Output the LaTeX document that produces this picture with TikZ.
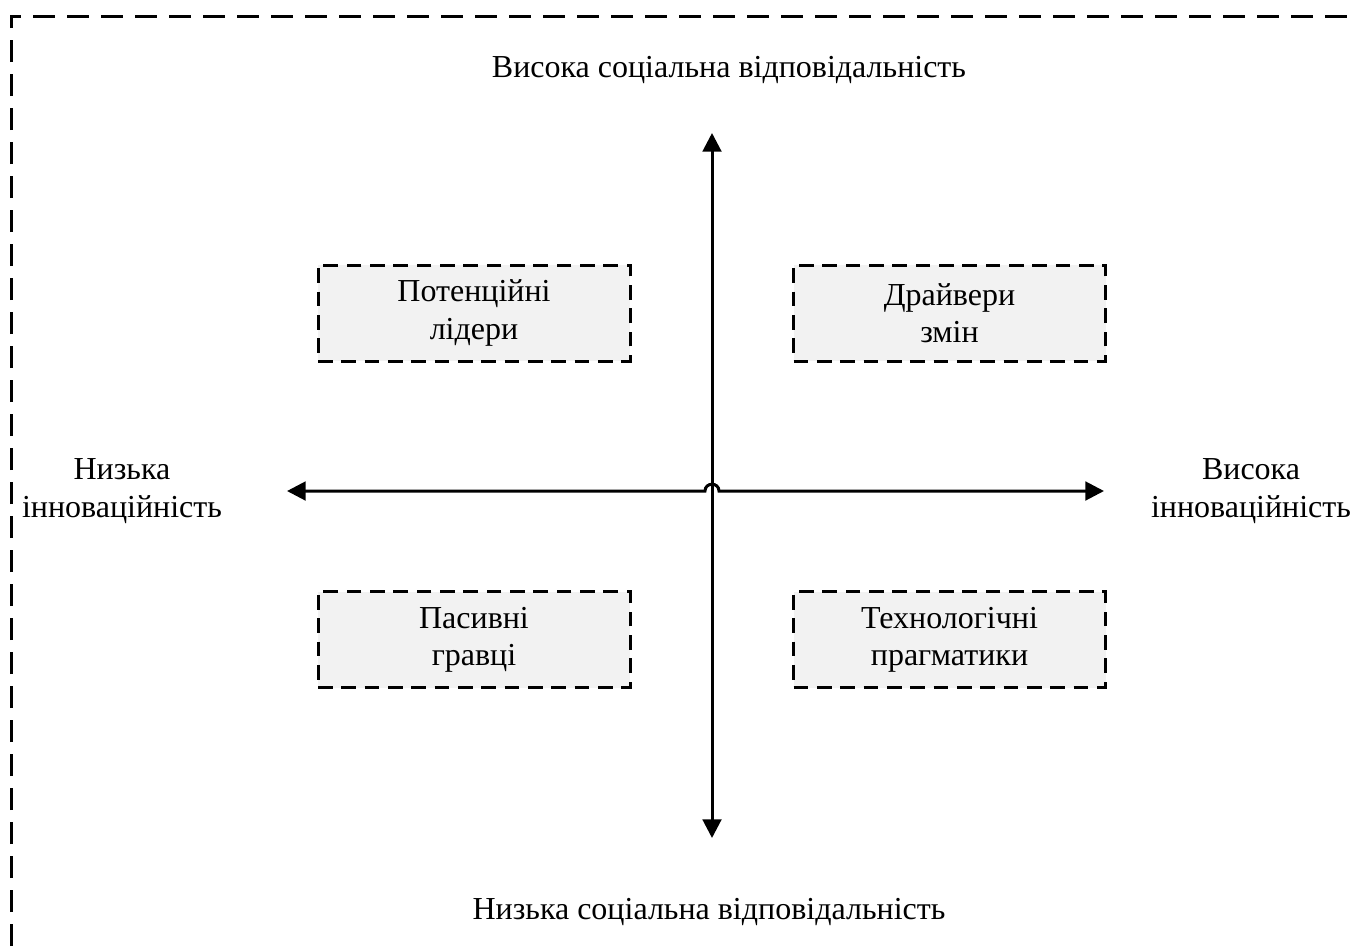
\documentclass[tikz,border=0pt]{standalone}
\usepackage{fontspec}
\setmainfont{Liberation Serif}
\usetikzlibrary{arrows.meta}
\begin{document}
\begin{tikzpicture}[x=0.75pt,y=-0.75pt,
  lbl/.style={font=\fontsize{24}{28.5}\selectfont, align=center, inner sep=0pt},
  quad/.style={draw=black, fill=gray!10, line width=2.25pt, dash pattern=on 11pt off 6.5pt,
    minimum width=234pt, minimum height=72pt, font=\fontsize{24}{28}\selectfont, align=center, inner sep=0pt},
  axis/.style={line width=2.25pt, {Triangle[length=14pt,width=14pt]}-{Triangle[length=14pt,width=14pt]}},
  frame/.style={line width=2.25pt, dash pattern=on 16.5pt off 9pt}]
\useasboundingbox (0,0) rectangle (1356,946);
\clip (0,0) rectangle (1356,946);
\draw[frame] (11,980) -- (11,16) -- (1400,16);
\coordinate (vt) at (712,133);
\coordinate (vb) at (712,838);
\coordinate (hl) at (287,491);
\coordinate (hr) at (1104,491);
\coordinate (hopL) at (705,491);
\coordinate (hopR) at (719,491);
\draw[axis] (vb) -- (vt);
\draw[axis] (hl) -- (hopL) .. controls (705,482) and (719,482) .. (hopR) -- (hr);
\node[quad] (pl) at (474,313) {Потенційні\\лідери};
\node[quad] (dz) at (949.5,313) {Драйвери\\змін};
\node[quad] (pg) at (474,639.5) {Пасивні\\гравці};
\node[quad] (tp) at (949.5,639.5) {Технологічні\\прагматики};
\node[lbl] (top) at (729,70) {Висока соціальна відповідальність};
\node[lbl] (bot) at (709,912) {Низька соціальна відповідальність};
\node[lbl] (li) at (122,491) {Низька\\інноваційність};
\node[lbl] (ri) at (1251,491) {Висока\\інноваційність};
\end{tikzpicture}
\end{document}
